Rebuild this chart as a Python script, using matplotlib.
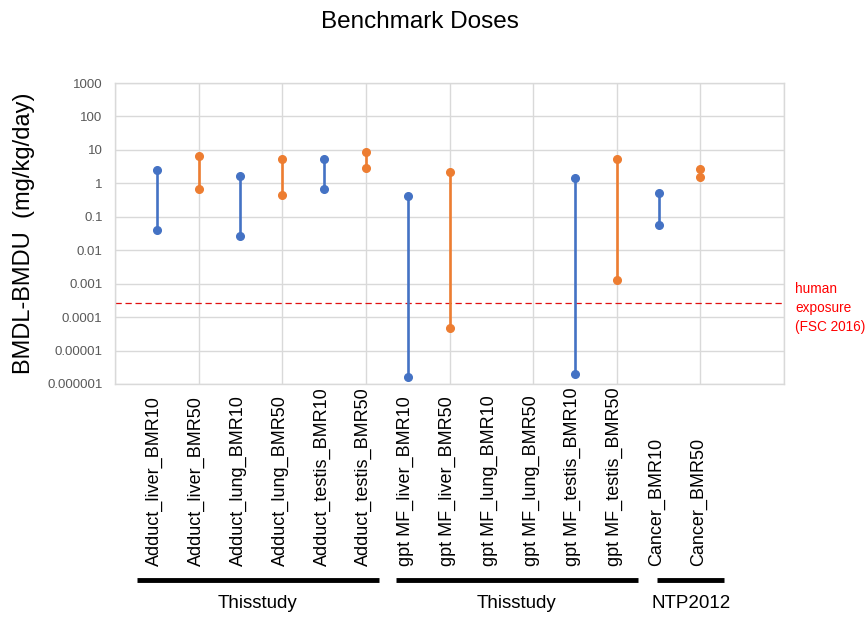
import matplotlib.pyplot as plt
import numpy as np
from matplotlib.ticker import NullLocator
from matplotlib.transforms import blended_transform_factory

plt.rcParams['font.family'] = ['Liberation Sans', 'DejaVu Sans']

# categories on the x axis
categories = ["Adduct_liver_BMR10", "Adduct_liver_BMR50", "Adduct_lung_BMR10", "Adduct_lung_BMR50",
              "Adduct_testis_BMR10", "Adduct_testis_BMR50", "gpt MF_liver_BMR10", "gpt MF_liver_BMR50",
              "gpt MF_lung_BMR10", "gpt MF_lung_BMR50", "gpt MF_testis_BMR10", "gpt MF_testis_BMR50",
              "Cancer_BMR10", "Cancer_BMR50"]
bmr = ["BMR10", "BMR50"] * 7
# lower / upper bounds (mg/kg/day), nan = no value
bmdl = [0.039, 0.66, 0.027, 0.45, 0.66, 2.8, 1.6e-6, 4.7e-5, np.nan, np.nan, 2.0e-6, 0.0013, 0.057, 1.6]
bmdu = [2.5, 6.7, 1.7, 5.2, 5.2, 8.6, 0.41, 2.2, np.nan, np.nan, 1.4, 5.3, 0.51, 2.6]
human_exposure = 2.7e-4

groups = ["Thisstudy", "Thisstudy", "NTP2012"]
group_spans = [(-0.48, 5.32), (5.71, 11.51), (11.97, 13.57)]

yticks = [1e-6, 1e-5, 1e-4, 1e-3, 1e-2, 1e-1, 1, 10, 100, 1000]
ytick_labels = ["0.000001", "0.00001", "0.0001", "0.001", "0.01", "0.1", "1", "10", "100", "1000"]

colors = {"BMR10": "#4472C4", "BMR50": "#ED7D31"}
grid_c = "#d9d9d9"

fig = plt.figure(figsize=(8.68, 6.18), dpi=100)
ax = fig.add_axes([115/868, 1-384/618, (784-115)/868, (384-83)/618])

for i, name in enumerate(categories):
    if np.isnan(bmdl[i]):
        continue
    ax.plot([i, i], [bmdl[i], bmdu[i]], color=colors[bmr[i]], lw=1.9,
            marker='o', ms=5.5, zorder=3, clip_on=False)

ax.axhline(human_exposure, color='#e01010', lw=0.9, ls=(0, (5, 3)), zorder=2)

ax.set_yscale('log')
ax.set_ylim(1e-6, 1000)
ax.set_xlim(-1, 15)
ax.set_yticks(yticks)
ax.set_yticklabels(ytick_labels)
ax.yaxis.set_minor_locator(NullLocator())
ax.set_xticks(np.arange(-1, 16, 2))
ax.set_xticklabels([])
ax.tick_params(axis='both', length=0)
ax.tick_params(axis='y', labelsize=9.5, labelcolor='#595959', pad=9)
ax.grid(color=grid_c, lw=1)
ax.set_axisbelow(True)
for s in ax.spines.values():
    s.set_color(grid_c)
    s.set_linewidth(1)

# category labels, rotated, aligned at the bottom
tr = blended_transform_factory(ax.transData, fig.transFigure)
for i, name in enumerate(categories):
    ax.text(i - 0.05, 1-566/618, name, rotation=90, ha='center', va='bottom',
            fontsize=13, transform=tr)

# group bars and labels
for g, (a, b) in zip(groups, group_spans):
    ax.plot([a, b], [1-580/618, 1-580/618], color='black', lw=3.5, transform=tr,
            clip_on=False, solid_capstyle='butt')
    ax.text((a + b) / 2, 1-604/618, g, ha='center', va='center', fontsize=13.5, transform=tr)

fig.text(420/868, 1-22/618, "Benchmark Doses", ha='center', va='center', fontsize=17.5)
fig.text(24/868, 1-233/618, "BMDL-BMDU  (mg/kg/day)", rotation=90, ha='center', va='center',
         fontsize=17)
fig.text(795/868, 1-308/618, "human\nexposure\n(FSC 2016)", color='#ff0000', ha='left',
         va='center', fontsize=9.8, linespacing=1.45)

fig.savefig("out.png", dpi=100)
